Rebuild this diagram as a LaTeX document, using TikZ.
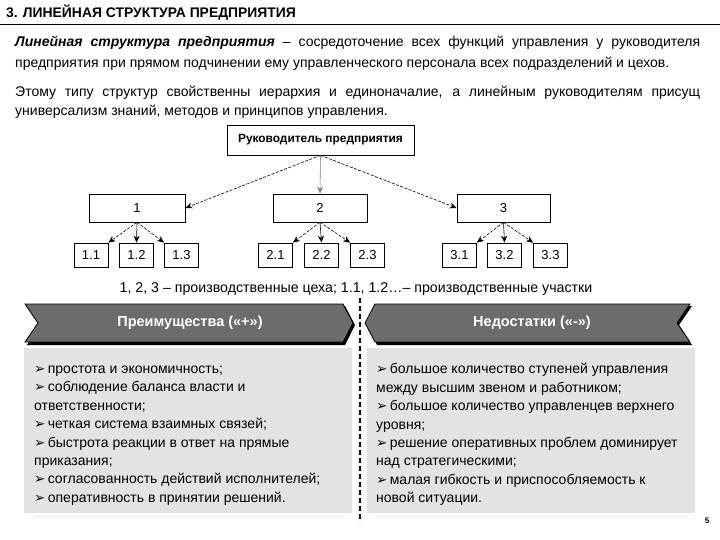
\documentclass[tikz,border=0pt]{standalone}
\usepackage{fontspec}
\setmainfont{Liberation Sans}
\newfontfamily\dejavu{DejaVu Sans}
\usetikzlibrary{arrows.meta}
\newcommand{\bul}{{\dejavu\fontsize{13.5}{13.5}\selectfont ➢}\,}
\newcommand{\topstrut}{\rule{0pt}{12pt}}
\tikzset{
  x=1pt,y=-1pt,
  box/.style={draw=black,line width=0.7pt,fill=white,inner sep=0pt},
  lbl/.style={font=\fontsize{13}{13}\selectfont,inner sep=0pt},
  arr/.style={-{Stealth[length=7pt,width=6pt]},dashed,dash pattern=on 3pt off 1.5pt,line width=0.6pt},
  arrs/.style={-{Stealth[length=7pt,width=6pt]},line width=0.6pt,draw=gray},
  banner/.style={fill=gray!85!black,draw=black,line width=0.8pt},
  cbox/.style={fill=black!11,draw=none},
  bodytext/.style={font=\fontsize{14}{18.45}\selectfont,align=left,anchor=north west,inner sep=0pt}
}
\begin{document}
\begin{tikzpicture}
\useasboundingbox (0,0) rectangle (720,540);
\fill[white] (0,0) rectangle (720,540);
% title
\node[anchor=base west,inner sep=0pt,font=\fontsize{13.9}{13.9}\selectfont\bfseries] (title) at (6,18) {3. ЛИНЕЙНАЯ СТРУКТУРА ПРЕДПРИЯТИЯ};
\draw[line width=0.8pt] (0,24.5) -- (720,24.5);
% paragraphs
\node[anchor=north west,inner sep=0pt,text width=685pt,align=justify,font=\fontsize{14}{21}\selectfont] (p1) at (15,34)
{\topstrut\textbf{\textit{Линейная структура предприятия}} – сосредоточение всех функций управления у руководителя\linebreak предприятия при прямом подчинении ему управленческого персонала всех подразделений и цехов.};
\node[anchor=north west,inner sep=0pt,text width=685pt,align=justify,font=\fontsize{14}{19.5}\selectfont] (p2) at (15,84)
{\topstrut Этому типу структур свойственны иерархия и единоначалие, а линейным руководителям присущ\linebreak универсализм знаний, методов и принципов управления.};
% tree
\node[box,minimum width=187pt,minimum height=30pt,font=\fontsize{11.9}{11.9}\selectfont\bfseries] (top) at (320.5,140) {Руководитель предприятия};
\node[box,lbl,minimum width=96pt,minimum height=28pt] (b1) at (137,208) {1};
\node[box,lbl,minimum width=94pt,minimum height=28pt] (b2) at (320,208) {2};
\node[box,lbl,minimum width=93pt,minimum height=28pt] (b3) at (503.5,208) {3};
\node[box,lbl,minimum width=34pt,minimum height=24pt] (c11) at (91,255) {1.1};
\node[box,lbl,minimum width=34pt,minimum height=24pt] (c12) at (136.5,255) {1.2};
\node[box,lbl,minimum width=34pt,minimum height=24pt] (c13) at (181.5,255) {1.3};
\node[box,lbl,minimum width=34pt,minimum height=24pt] (c21) at (275.5,255) {2.1};
\node[box,lbl,minimum width=34pt,minimum height=24pt] (c22) at (321.5,255) {2.2};
\node[box,lbl,minimum width=34pt,minimum height=24pt] (c23) at (367.5,255) {2.3};
\node[box,lbl,minimum width=34pt,minimum height=24pt] (c31) at (459.5,255) {3.1};
\node[box,lbl,minimum width=34pt,minimum height=24pt] (c32) at (504.5,255) {3.2};
\node[box,lbl,minimum width=34pt,minimum height=24pt] (c33) at (550.5,255) {3.3};
\draw[arr] (top.south) -- (b1.east);
\draw[arrs] (top.south) -- (b2.north);
\draw[arr] (top.south) -- (b3.west);
\foreach \i in {1,2,3}{
  \draw[arr] (b\i.south) -- (c\i1.north east);
  \draw[arrs,draw=black] (b\i.south) -- (c\i2.north);
  \draw[arr] (b\i.south) -- (c\i3.north west);
}
\node[font=\fontsize{14.2}{14.2}\selectfont,anchor=base,inner sep=0pt] (cap) at (356,292) {1, 2, 3 – производственные цеха; 1.1, 1.2…– производственные участки};
% banners
\fill[black] (27,306) -- (345,306) -- (355,325) -- (345,345) -- (27,345) -- (40,325) -- cycle;
\draw[banner] (25,304) -- (343,304) -- (353,323) -- (343,342) -- (25,342) -- (38,323) -- cycle;
\node[font=\fontsize{14.5}{14.5}\selectfont\bfseries,text=white] (adv) at (190,323) {Преимущества («+»)};
\fill[black] (367,325) -- (377,306) -- (692,306) -- (679,325) -- (692,345) -- (377,345) -- cycle;
\draw[banner] (365,323) -- (375,304) -- (690,304) -- (677,323) -- (690,342) -- (375,342) -- cycle;
\node[font=\fontsize{14.5}{14.5}\selectfont\bfseries,text=white] (dis) at (532,323) {Недостатки («-»)};
% content boxes
\fill[black!4] (33,515) rectangle (345,518);
\fill[cbox] (24,348) rectangle (352,513);
\fill[black!4] (375,515) rectangle (688,518);
\fill[cbox] (367,348) rectangle (695,513);
\draw[line width=1.2pt,dash pattern=on 5pt off 3pt] (360,298) -- (360,522);
\node[bodytext] (ltext) at (34,361) {\topstrut\bul простота и экономичность;\\
\bul соблюдение баланса власти и\\
ответственности;\\
\bul четкая система взаимных связей;\\
\bul быстрота реакции в ответ на прямые\\
приказания;\\
\bul согласованность действий исполнителей;\\
\bul оперативность в принятии решений.};
\node[bodytext] (rtext) at (376,361.5) {\topstrut\bul большое количество ступеней управления\\
между высшим звеном и работником;\\
\bul большое количество управленцев верхнего\\
уровня;\\
\bul решение оперативных проблем доминирует\\
над стратегическими;\\
\bul малая гибкость и приспособляемость к\\
новой ситуации.};
\node[font=\fontsize{8}{8}\selectfont\bfseries] (pg) at (707,521) {5};
\end{tikzpicture}
\end{document}
